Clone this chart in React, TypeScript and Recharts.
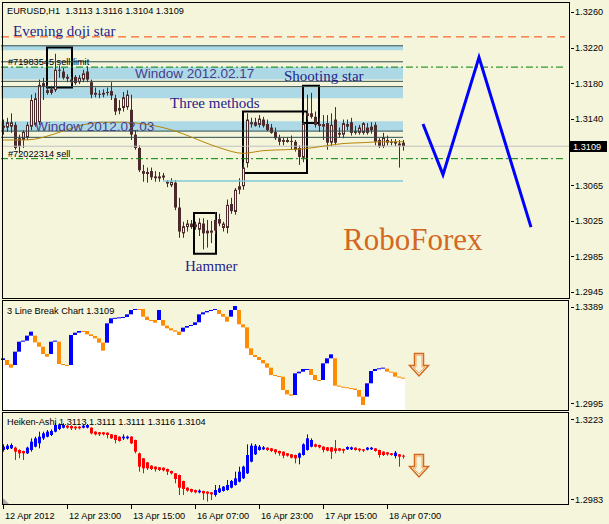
import React from 'react';
import { ComposedChart, Bar, Line, XAxis, YAxis, ReferenceArea, ReferenceLine } from 'recharts';

const BG = '#F5F5DC';
const CANDLE = '#4a2a2a';
const SANS = '"Liberation Sans", Arial, sans-serif';
const SERIF = '"Liberation Serif", "Times New Roman", serif';

// EURUSD H1 bars: open, high, low, close
const candles: number[][] = [
  [1.3130, 1.3139, 1.3122, 1.3132], [1.3130, 1.3141, 1.3125, 1.3136], [1.3131, 1.3146, 1.3124, 1.3136],
  [1.3133, 1.3136, 1.3105, 1.3107], [1.3118, 1.3122, 1.3101, 1.3109], [1.3116, 1.3127, 1.3107, 1.3125],
  [1.3119, 1.3136, 1.3116, 1.3133], [1.3131, 1.3167, 1.3127, 1.3161], [1.3133, 1.3169, 1.3131, 1.3163],
  [1.3136, 1.3184, 1.3133, 1.3178], [1.3176, 1.3186, 1.3161, 1.3180], [1.3172, 1.3178, 1.3167, 1.3169],
  [1.3173, 1.3177, 1.3167, 1.3169], [1.3172, 1.3213, 1.3170, 1.3195], [1.3195, 1.3200, 1.3186, 1.3194],
  [1.3193, 1.3197, 1.3184, 1.3186], [1.3187, 1.3190, 1.3181, 1.3185], [1.3184, 1.3187, 1.3179, 1.3181],
  [1.3187, 1.3189, 1.3178, 1.3180], [1.3181, 1.3189, 1.3179, 1.3186], [1.3184, 1.3195, 1.3181, 1.3191],
  [1.3193, 1.3199, 1.3181, 1.3184], [1.3181, 1.3184, 1.3163, 1.3167], [1.3169, 1.3175, 1.3164, 1.3167],
  [1.3168, 1.3172, 1.3163, 1.3167], [1.3169, 1.3173, 1.3164, 1.3167], [1.3170, 1.3175, 1.3166, 1.3169],
  [1.3171, 1.3181, 1.3161, 1.3166], [1.3163, 1.3167, 1.3144, 1.3148], [1.3152, 1.3161, 1.3145, 1.3149],
  [1.3152, 1.3170, 1.3148, 1.3164], [1.3153, 1.3172, 1.3150, 1.3167], [1.3150, 1.3167, 1.3116, 1.3122],
  [1.3122, 1.3127, 1.3105, 1.3107], [1.3107, 1.3110, 1.3080, 1.3082], [1.3081, 1.3088, 1.3069, 1.3078],
  [1.3079, 1.3085, 1.3068, 1.3080], [1.3081, 1.3085, 1.3071, 1.3074], [1.3075, 1.3081, 1.3069, 1.3073],
  [1.3073, 1.3080, 1.3069, 1.3075], [1.3075, 1.3079, 1.3071, 1.3076], [1.3069, 1.3071, 1.3063, 1.3067],
  [1.3065, 1.3073, 1.3063, 1.3069], [1.3068, 1.3071, 1.3037, 1.3040], [1.3040, 1.3051, 1.3006, 1.3013],
  [1.3011, 1.3024, 1.3006, 1.3019], [1.3018, 1.3026, 1.3013, 1.3022], [1.3022, 1.3026, 1.3016, 1.3018],
  [1.3018, 1.3024, 1.3015, 1.3021], [1.3015, 1.3028, 1.3008, 1.3023], [1.3022, 1.3028, 1.2993, 1.3011],
  [1.3014, 1.3026, 1.2995, 1.3011], [1.3013, 1.3025, 1.3000, 1.3014], [1.3026, 1.3035, 1.3010, 1.3014],
  [1.3027, 1.3033, 1.3019, 1.3022], [1.3017, 1.3024, 1.3013, 1.3022], [1.3017, 1.3049, 1.3011, 1.3043],
  [1.3044, 1.3051, 1.3033, 1.3036], [1.3035, 1.3062, 1.3032, 1.3060], [1.3060, 1.3073, 1.3055, 1.3064],
  [1.3064, 1.3091, 1.3060, 1.3085], [1.3090, 1.3146, 1.3085, 1.3139], [1.3135, 1.3141, 1.3130, 1.3136],
  [1.3136, 1.3141, 1.3131, 1.3132], [1.3133, 1.3144, 1.3130, 1.3140], [1.3139, 1.3142, 1.3130, 1.3132],
  [1.3134, 1.3139, 1.3126, 1.3127], [1.3130, 1.3134, 1.3123, 1.3124], [1.3125, 1.3130, 1.3116, 1.3118],
  [1.3118, 1.3122, 1.3110, 1.3114], [1.3116, 1.3119, 1.3110, 1.3114], [1.3115, 1.3119, 1.3113, 1.3116],
  [1.3115, 1.3121, 1.3105, 1.3114], [1.3114, 1.3116, 1.3103, 1.3105], [1.3107, 1.3110, 1.3088, 1.3097],
  [1.3096, 1.3144, 1.3091, 1.3135], [1.3143, 1.3167, 1.3139, 1.3146], [1.3146, 1.3169, 1.3140, 1.3142],
  [1.3142, 1.3148, 1.3130, 1.3133], [1.3132, 1.3141, 1.3125, 1.3134], [1.3131, 1.3144, 1.3116, 1.3134],
  [1.3135, 1.3144, 1.3105, 1.3113], [1.3113, 1.3146, 1.3109, 1.3133], [1.3139, 1.3153, 1.3110, 1.3113],
  [1.3124, 1.3130, 1.3119, 1.3122], [1.3122, 1.3139, 1.3118, 1.3135], [1.3134, 1.3139, 1.3127, 1.3131],
  [1.3136, 1.3141, 1.3121, 1.3124], [1.3126, 1.3132, 1.3122, 1.3124], [1.3124, 1.3133, 1.3122, 1.3130],
  [1.3124, 1.3136, 1.3122, 1.3135], [1.3130, 1.3135, 1.3122, 1.3124], [1.3131, 1.3136, 1.3123, 1.3127],
  [1.3133, 1.3136, 1.3110, 1.3114], [1.3116, 1.3118, 1.3107, 1.3109], [1.3109, 1.3124, 1.3107, 1.3119],
  [1.3116, 1.3121, 1.3110, 1.3113], [1.3114, 1.3117, 1.3110, 1.3113], [1.3114, 1.3117, 1.3109, 1.3112],
  [1.3110, 1.3116, 1.3085, 1.3112], [1.3113, 1.3116, 1.3104, 1.3109],
];

// moving average, read at a few bars
const maPoints: number[][] = [
  [0, 1.3116], [5, 1.3116], [8, 1.3117], [10, 1.3119], [15, 1.3126], [20, 1.3133], [25, 1.3136],
  [30, 1.3136], [35, 1.3134], [40, 1.3130], [45, 1.3123], [50, 1.3114], [55, 1.3106], [60, 1.3101],
  [65, 1.3104], [70, 1.3105], [75, 1.3106], [80, 1.3109], [85, 1.3112], [90, 1.3113], [95, 1.3114], [100, 1.3114],
];

// forecast zigzag
const zigzag: number[][] = [[105, 1.3134], [110, 1.3077], [119, 1.3209], [132, 1.3018]];

// levels on the main chart
const bands: number[][] = [[1.3217, 1.3222], [1.3184, 1.3198], [1.3163, 1.3175], [1.3126, 1.3137]];
const darkLevels = [1.3222, 1.3204, 1.3182, 1.3176, 1.3126, 1.3119];
const orderLevels = [1.3198, 1.3095];
const dojiLevel = 1.3232;
const supportLevel = 1.3070;
const lastPrice = 1.3109;

// pattern boxes: bar from, bar to, price top, price bottom
const boxes: number[][] = [[11, 17.25, 1.3220, 1.3175], [47.75, 53.25, 1.3034, 1.2988], [60, 76, 1.3148, 1.3079], [75, 79, 1.3177, 1.3135]];

// 3 line break blocks: low, high, up(1)/down(0)
const lineBreak: number[][] = [
  [1.31715, 1.31784, 1], [1.3151, 1.31715, 0], [1.31401, 1.31537, 0], [1.3151, 1.32057, 1], [1.32057, 1.32467, 1],
  [1.32467, 1.32509, 1], [1.32509, 1.32714, 1], [1.32714, 1.32878, 1], [1.3244, 1.32714, 0], [1.32262, 1.3244, 0],
  [1.31961, 1.32262, 0], [1.31852, 1.31961, 0], [1.31961, 1.32467, 1], [1.32467, 1.32509, 1], [1.31551, 1.32467, 0],
  [1.3151, 1.31551, 0], [1.31483, 1.3151, 0], [1.3151, 1.32741, 1], [1.32741, 1.32837, 1], [1.32837, 1.32905, 1],
  [1.32878, 1.32905, 0], [1.32768, 1.32905, 0], [1.327, 1.32768, 0], [1.32604, 1.327, 0], [1.32426, 1.32604, 0],
  [1.32098, 1.32426, 0], [1.32426, 1.3322, 1], [1.3322, 1.33425, 1], [1.33425, 1.33445, 1], [1.33445, 1.33465, 1],
  [1.33452, 1.3348, 1], [1.3348, 1.33589, 1], [1.33589, 1.33767, 1], [1.33767, 1.33808, 1], [1.3378, 1.33808, 0],
  [1.33493, 1.33808, 0], [1.33357, 1.33493, 0], [1.33329, 1.33357, 0], [1.33247, 1.33357, 0], [1.33357, 1.33767, 1],
  [1.33124, 1.33357, 0], [1.33015, 1.33124, 0], [1.32933, 1.33015, 0], [1.32878, 1.32933, 0], [1.32741, 1.32878, 0],
  [1.32878, 1.33042, 1], [1.33042, 1.3311, 1], [1.3311, 1.33151, 1], [1.33151, 1.33261, 1], [1.33261, 1.33589, 1],
  [1.33589, 1.33671, 1], [1.33671, 1.33726, 1], [1.33726, 1.33767, 1], [1.33767, 1.33808, 1], [1.33603, 1.33767, 0],
  [1.33493, 1.33603, 0], [1.33288, 1.33493, 0], [1.33493, 1.33767, 1], [1.33767, 1.33931, 1], [1.33179, 1.33767, 0],
  [1.33056, 1.33179, 0], [1.32194, 1.33056, 0], [1.3192, 1.32194, 0], [1.31838, 1.3192, 0], [1.31715, 1.31838, 0],
  [1.31578, 1.31715, 0], [1.31401, 1.31578, 0], [1.311, 1.31401, 0], [1.31059, 1.311, 0], [1.31031, 1.31059, 0],
  [1.30484, 1.31031, 0], [1.30306, 1.30484, 0], [1.30252, 1.30306, 0], [1.30279, 1.31168, 1], [1.31168, 1.31236, 1],
  [1.31236, 1.31346, 1], [1.31332, 1.31346, 1], [1.311, 1.31346, 0], [1.30894, 1.311, 0], [1.30853, 1.30894, 0],
  [1.30894, 1.31578, 1], [1.31578, 1.31784, 1], [1.31784, 1.31948, 1], [1.30662, 1.31784, 0], [1.30621, 1.30662, 0],
  [1.30594, 1.30621, 0], [1.30566, 1.30594, 0], [1.30539, 1.30566, 0], [1.30484, 1.30539, 0], [1.30211, 1.30484, 0],
  [1.29869, 1.30211, 0], [1.30211, 1.30758, 1], [1.30758, 1.31264, 1], [1.31264, 1.31346, 1], [1.31346, 1.31373, 1],
  [1.3136, 1.31401, 1], [1.31236, 1.3136, 0], [1.31209, 1.31236, 0], [1.31031, 1.31209, 0], [1.3099, 1.31031, 0],
  [1.30977, 1.3099, 0],
];

// Heiken-Ashi: open, high, low, close
const heikenAshi: number[][] = [
  [1.3130, 1.3147, 1.3125, 1.3140], [1.3133, 1.3148, 1.3130, 1.3143], [1.3135, 1.3150, 1.3133, 1.3145],
  [1.3137, 1.3140, 1.3100, 1.3125], [1.3130, 1.3132, 1.3105, 1.3120], [1.3127, 1.3128, 1.3100, 1.3120],
  [1.3120, 1.3140, 1.3118, 1.3137], [1.3130, 1.3165, 1.3125, 1.3155], [1.3140, 1.3170, 1.3138, 1.3165],
  [1.3150, 1.3185, 1.3135, 1.3170], [1.3165, 1.3185, 1.3160, 1.3180], [1.3170, 1.3190, 1.3168, 1.3185],
  [1.3175, 1.3192, 1.3172, 1.3187], [1.3185, 1.3210, 1.3183, 1.3205], [1.3193, 1.3210, 1.3190, 1.3207],
  [1.3197, 1.3210, 1.3195, 1.3205], [1.3203, 1.3206, 1.3194, 1.3197], [1.3202, 1.3204, 1.3190, 1.3195],
  [1.3200, 1.3201, 1.3190, 1.3195], [1.3200, 1.3202, 1.3192, 1.3195], [1.3197, 1.3206, 1.3195, 1.3203],
  [1.3197, 1.3208, 1.3195, 1.3205], [1.3197, 1.3198, 1.3177, 1.3180], [1.3185, 1.3186, 1.3174, 1.3177],
  [1.3183, 1.3184, 1.3172, 1.3177], [1.3183, 1.3184, 1.3174, 1.3177], [1.3182, 1.3183, 1.3165, 1.3175],
  [1.3177, 1.3178, 1.3163, 1.3165], [1.3175, 1.3176, 1.3150, 1.3160], [1.3170, 1.3171, 1.3155, 1.3157],
  [1.3165, 1.3177, 1.3160, 1.3170], [1.3165, 1.3173, 1.3162, 1.3170], [1.3170, 1.3172, 1.3148, 1.3150],
  [1.3160, 1.3161, 1.3120, 1.3125], [1.3120, 1.3122, 1.3065, 1.3080], [1.3105, 1.3106, 1.3060, 1.3075],
  [1.3093, 1.3094, 1.3070, 1.3075], [1.3083, 1.3084, 1.3070, 1.3073], [1.3080, 1.3081, 1.3065, 1.3072],
  [1.3078, 1.3079, 1.3067, 1.3070], [1.3077, 1.3078, 1.3066, 1.3069], [1.3073, 1.3074, 1.3055, 1.3065],
  [1.3067, 1.3068, 1.3057, 1.3060], [1.3060, 1.3061, 1.3030, 1.3043], [1.3055, 1.3056, 1.2995, 1.3017],
  [1.3037, 1.3038, 1.2995, 1.3013], [1.3017, 1.3018, 1.3005, 1.3008], [1.3013, 1.3014, 1.3002, 1.3005],
  [1.3010, 1.3011, 1.3000, 1.3003], [1.3003, 1.3012, 1.3000, 1.3008], [1.3007, 1.3008, 1.2980, 1.3000],
  [1.3005, 1.3006, 1.2975, 1.2999], [1.3003, 1.3004, 1.2980, 1.2997], [1.2995, 1.3025, 1.2990, 1.3010],
  [1.3003, 1.3025, 1.3001, 1.3015], [1.3007, 1.3022, 1.3005, 1.3020], [1.3010, 1.3040, 1.3008, 1.3025],
  [1.3017, 1.3040, 1.3015, 1.3037], [1.3025, 1.3065, 1.3023, 1.3045], [1.3035, 1.3080, 1.3033, 1.3065],
  [1.3045, 1.3083, 1.3043, 1.3080], [1.3060, 1.3147, 1.3058, 1.3115], [1.3095, 1.3150, 1.3093, 1.3143],
  [1.3117, 1.3148, 1.3115, 1.3143], [1.3130, 1.3145, 1.3128, 1.3140], [1.3132, 1.3142, 1.3130, 1.3138],
  [1.3137, 1.3138, 1.3127, 1.3130], [1.3135, 1.3136, 1.3124, 1.3127], [1.3132, 1.3133, 1.3117, 1.3123],
  [1.3127, 1.3128, 1.3113, 1.3120], [1.3125, 1.3126, 1.3105, 1.3113], [1.3120, 1.3121, 1.3110, 1.3113],
  [1.3117, 1.3118, 1.3105, 1.3107], [1.3115, 1.3116, 1.3090, 1.3105], [1.3107, 1.3122, 1.3087, 1.3120],
  [1.3115, 1.3150, 1.3113, 1.3147], [1.3130, 1.3177, 1.3128, 1.3165], [1.3140, 1.3165, 1.3138, 1.3160],
  [1.3147, 1.3149, 1.3138, 1.3140], [1.3145, 1.3146, 1.3135, 1.3138], [1.3140, 1.3141, 1.3123, 1.3130],
  [1.3138, 1.3139, 1.3126, 1.3128], [1.3138, 1.3139, 1.3103, 1.3125], [1.3135, 1.3160, 1.3120, 1.3127],
  [1.3135, 1.3136, 1.3126, 1.3128], [1.3133, 1.3134, 1.3120, 1.3128], [1.3132, 1.3141, 1.3130, 1.3139],
  [1.3132, 1.3140, 1.3130, 1.3138], [1.3137, 1.3138, 1.3128, 1.3130], [1.3134, 1.3135, 1.3125, 1.3129],
  [1.3132, 1.3133, 1.3124, 1.3128], [1.3131, 1.3139, 1.3129, 1.3137], [1.3132, 1.3139, 1.3130, 1.3137],
  [1.3135, 1.3136, 1.3125, 1.3127], [1.3130, 1.3131, 1.3107, 1.3115], [1.3125, 1.3126, 1.3112, 1.3115],
  [1.3123, 1.3124, 1.3113, 1.3117], [1.3120, 1.3121, 1.3113, 1.3115], [1.3112, 1.3127, 1.3105, 1.3122],
  [1.3117, 1.3118, 1.3080, 1.3110], [1.3113, 1.3116, 1.3104, 1.3111],
];

// 1.3105 sits under the last-price marker in the original, so it is left out
const mainTicks = [1.3260, 1.3220, 1.3180, 1.3140, 1.3065, 1.3025, 1.2985, 1.2945];
const lbTicks = [1.3389, 1.2995];
const haTicks = [1.3223, 1.2983];
const timeTicks = [0, 16, 32, 48, 64, 80, 96];
const timeLabels = ['12 Apr 2012', '12 Apr 23:00', '13 Apr 15:00', '16 Apr 07:00', '16 Apr 23:00', '17 Apr 15:00', '18 Apr 07:00'];

const X_DOMAIN = [-0.5, 141.5];
const MAIN_DOMAIN = [1.293937, 1.327012];
const LB_DOMAIN = [1.296628, 1.341362];
const HA_DOMAIN = [1.2968, 1.3241];

const mainRows: any[] = candles.map(([o, h, l, c], i) => ({ i, o, h, l, c }));
maPoints.forEach(([i, v]) => { mainRows[i].ma = v; });
zigzag.forEach(([i, v]) => mainRows.push({ i, zz: v }));

const lbRows = lineBreak.map(([lo, hi, up], i) => ({ i, lo, hi, up }));
const haRows = heikenAshi.map(([o, h, l, c], i) => ({ i, o, h, l, c }));

// shared geometry helper for range bars [low, high]
const spanOf = (props: any, hi: number, lo: number) => {
  const top = Math.min(props.y, props.y + props.height);
  const span = Math.abs(props.height);
  const k = hi > lo ? span / (hi - lo) : 0;
  return { top, span, k, cx: Math.round(props.x + props.width / 2) };
};

const CandleShape = (props: any) => {
  const p = props.payload;
  if (!p || p.h == null || props.x == null) return null;
  const { top, span, k, cx } = spanOf(props, p.h, p.l);
  const yo = top + (p.h - p.o) * k;
  const yc = top + (p.h - p.c) * k;
  const bTop = Math.min(yo, yc);
  const bH = Math.max(1, Math.abs(yc - yo));
  const bull = p.c > p.o;
  return (
    <g>
      <line x1={cx + 0.5} x2={cx + 0.5} y1={top} y2={top + span} stroke={CANDLE} strokeWidth={1} />
      {bull
        ? <rect x={cx - 0.5} y={bTop + 0.5} width={2} height={Math.max(1, bH - 1)} fill={BG} stroke={CANDLE} strokeWidth={1} />
        : <rect x={cx - 1} y={bTop} width={3} height={bH} fill={CANDLE} />}
    </g>
  );
};

const HaShape = (props: any) => {
  const p = props.payload;
  if (!p || props.x == null) return null;
  const { top, span, k, cx } = spanOf(props, p.h, p.l);
  const yo = top + (p.h - p.o) * k;
  const yc = top + (p.h - p.c) * k;
  const color = p.c >= p.o ? '#0000ff' : '#ff0000';
  return (
    <g>
      <line x1={cx + 0.5} x2={cx + 0.5} y1={top} y2={top + span} stroke={color} strokeWidth={1} />
      <rect x={cx - 1} y={Math.min(yo, yc)} width={3} height={Math.max(1, Math.abs(yc - yo))} fill={color} />
    </g>
  );
};

const BreakShape = (props: any) => {
  const p = props.payload;
  if (!p || props.x == null) return null;
  const { top, span, k, cx } = spanOf(props, p.hi, LB_DOMAIN[0]);
  const yLo = top + (p.hi - p.lo) * k;
  const left = cx - 2;
  return (
    <g>
      <rect x={left} y={yLo} width={4} height={Math.max(0, top + span - yLo)} fill="#ffffff" />
      <rect x={left} y={top} width={4} height={Math.max(1, yLo - top)} fill={p.up ? '#0000ff' : '#ff8c00'} />
    </g>
  );
};

const PriceTick = (props: any) => {
  const { x, y, payload } = props;
  return (
    <g>
      <line x1={x + 2} x2={x + 5} y1={Math.round(y) + 0.5} y2={Math.round(y) + 0.5} stroke="#000" />
      <text x={x + 6} y={y + 3.5} fontSize={9.2} fontFamily={SANS} fill="#000">{payload.value.toFixed(4)}</text>
    </g>
  );
};

const TimeTick = (props: any) => {
  const { x, y, index } = props;
  return (
    <g>
      <line x1={Math.round(x) + 0.5} x2={Math.round(x) + 0.5} y1={y + 1} y2={y + 5} stroke="#000" />
      <text x={x + 2} y={y + 15} fontSize={9.2} fontFamily={SANS} fill="#000">{timeLabels[index]}</text>
    </g>
  );
};

const dashDot = '7 3 2 3';

function MainPanel() {
  return (
    <ComposedChart width={609} height={300} data={mainRows} margin={{ top: 3, right: 0, bottom: 3, left: 1 }}>
      <XAxis dataKey="i" type="number" domain={X_DOMAIN} allowDataOverflow hide />
      <YAxis orientation="right" width={40} domain={MAIN_DOMAIN} allowDataOverflow ticks={mainTicks}
        interval={0} axisLine={false} tickLine={false} tickSize={0} tickMargin={0} tick={<PriceTick />} />
      {bands.map(([a, b], k) => (
        <ReferenceArea key={'b' + k} x1={-0.5} x2={100} y1={a} y2={b} fill="#ADD8E6" fillOpacity={1} stroke="none" />
      ))}
      {darkLevels.map((v, k) => (
        <ReferenceLine key={'d' + k} segment={[{ x: -0.5, y: v }, { x: 100, y: v }]} stroke="#2F4F4F" strokeWidth={1} />
      ))}
      <ReferenceLine y={lastPrice} stroke="#C0C0C0" strokeWidth={1} />
      <ReferenceLine segment={[{ x: 40, y: supportLevel }, { x: 100, y: supportLevel }]} stroke="#7EC8D8" strokeWidth={1.5} />
      <Line dataKey="ma" type="monotone" stroke="#B8860B" strokeWidth={1} dot={false} connectNulls isAnimationActive={false} />
      <Bar dataKey={(d: any) => (d.h == null ? null : [d.l, d.h])} barSize={3} shape={<CandleShape />} isAnimationActive={false} />
      {orderLevels.map((v, k) => (
        <ReferenceLine key={'o' + k} segment={[{ x: -0.5, y: v }, { x: 140.5, y: v }]} stroke="#008000" strokeDasharray={dashDot} />
      ))}
      <ReferenceLine segment={[{ x: -0.5, y: dojiLevel }, { x: 140.5, y: dojiLevel }]} stroke="#FF4500" strokeDasharray="8 5" />
      {boxes.map(([a, b, t, u], k) => (
        <ReferenceArea key={'x' + k} x1={a} x2={b} y1={u} y2={t} fill="none" fillOpacity={0} stroke="#000" strokeWidth={2} />
      ))}
      <Line dataKey="zz" type="linear" stroke="#0000ff" strokeWidth={3} dot={false} connectNulls isAnimationActive={false} />
    </ComposedChart>
  );
}

function LineBreakPanel() {
  return (
    <ComposedChart width={609} height={111} data={lbRows} margin={{ top: 1, right: 0, bottom: 1, left: 1 }}>
      <XAxis dataKey="i" type="number" domain={X_DOMAIN} allowDataOverflow hide />
      <YAxis orientation="right" width={40} domain={LB_DOMAIN} allowDataOverflow ticks={lbTicks}
        interval={0} axisLine={false} tickLine={false} tickSize={0} tickMargin={0} tick={<PriceTick />} />
      <Bar dataKey={(d: any) => [LB_DOMAIN[0], d.hi]} barSize={4} shape={<BreakShape />} isAnimationActive={false} />
    </ComposedChart>
  );
}

function HeikenPanel() {
  return (
    <ComposedChart width={609} height={112} data={haRows} margin={{ top: 1, right: 0, bottom: 1, left: 1 }}>
      <XAxis dataKey="i" type="number" domain={X_DOMAIN} allowDataOverflow ticks={timeTicks} interval={0}
        height={19} axisLine={false} tickLine={false} tickSize={0} tickMargin={0} tick={<TimeTick />} />
      <YAxis orientation="right" width={40} domain={HA_DOMAIN} allowDataOverflow ticks={haTicks}
        interval={0} axisLine={false} tickLine={false} tickSize={0} tickMargin={0} tick={<PriceTick />} />
      <Bar dataKey={(d: any) => [d.l, d.h]} barSize={3} shape={<HaShape />} isAnimationActive={false} />
    </ComposedChart>
  );
}

const Arrow = ({ top }: { top: number }) => {
  const d = `M414.5,${top}.5 H423.5 V${top + 12}.5 H428.5 L419,${top + 23} L409.5,${top + 12}.5 H414.5 Z`;
  return (
    <g>
      <path d={d} fill={BG} stroke="#D2691E" strokeWidth={1.5} strokeLinejoin="miter" />
      <path d={`M416,${top + 2} H422 V${top + 14} H425 L419,${top + 20} L413,${top + 14} H416 Z`} fill="none" stroke="#F4A460" strokeWidth={1} />
    </g>
  );
};

const label = (x: number, y: number, s: string, extra: any = {}) => (
  <text x={x} y={y} fontFamily={SANS} fontSize={9.2} fill="#000" xmlSpace="preserve" {...extra}>{s}</text>
);

export default function App() {
  return (
    <div style={{ position: 'absolute', left: 0, top: 0, width: 609, height: 524, background: BG, overflow: 'hidden' }}>
      <div style={{ position: 'absolute', left: 0, top: 0 }}><MainPanel /></div>
      <div style={{ position: 'absolute', left: 0, top: 300 }}><LineBreakPanel /></div>
      <div style={{ position: 'absolute', left: 0, top: 412 }}><HeikenPanel /></div>
      <svg width={609} height={524} style={{ position: 'absolute', left: 0, top: 0, pointerEvents: 'none' }}>
        <rect x={2.5} y={2.5} width={567} height={296} fill="none" stroke="#000" />
        <rect x={2.5} y={300.5} width={566} height={110} fill="none" stroke="#000" />
        <rect x={2.5} y={412.5} width={566} height={92} fill="none" stroke="#000" />
        <polygon points="3,504 3,498 9,504" fill="#A9A9A9" />

        {label(7, 14, 'EURUSD,H1  1.3113 1.3116 1.3104 1.3109')}
        <text x={13} y={36} fontFamily={SERIF} fontSize={15} fill="#1E1E8C">Evening doji star</text>
        {label(8, 65, '#71983545 sell limit')}
        <text x={135} y={78} fontFamily={SANS} fontSize={13.5} fill="#483D8B">Window 2012.02.17</text>
        <text x={284} y={81} fontFamily={SERIF} fontSize={15} fill="#1E1E8C">Shooting star</text>
        <text x={170} y={108} fontFamily={SERIF} fontSize={15} fill="#1E1E8C">Three methods</text>
        <text x={35} y={131} fontFamily={SANS} fontSize={13.5} fill="#483D8B">Window 2012.02.03</text>
        {label(8, 157, '#72022314 sell')}
        <text x={185} y={271} fontFamily={SERIF} fontSize={15} fill="#1E1E8C">Hammer</text>
        <text x={343} y={250} fontFamily={SERIF} fontSize={31} fill="#D2691E">RoboForex</text>

        <rect x={570} y={141} width={37} height={11} fill="#000" />
        {label(573, 150, lastPrice.toFixed(4), { fill: '#fff' })}

        {label(7, 314, '3 Line Break Chart 1.3109')}
        {label(7, 425, 'Heiken-Ashi 1.3113 1.3111 1.3111 1.3116 1.3104')}
        <Arrow top={353} />
        <Arrow top={454} />
      </svg>
    </div>
  );
}
